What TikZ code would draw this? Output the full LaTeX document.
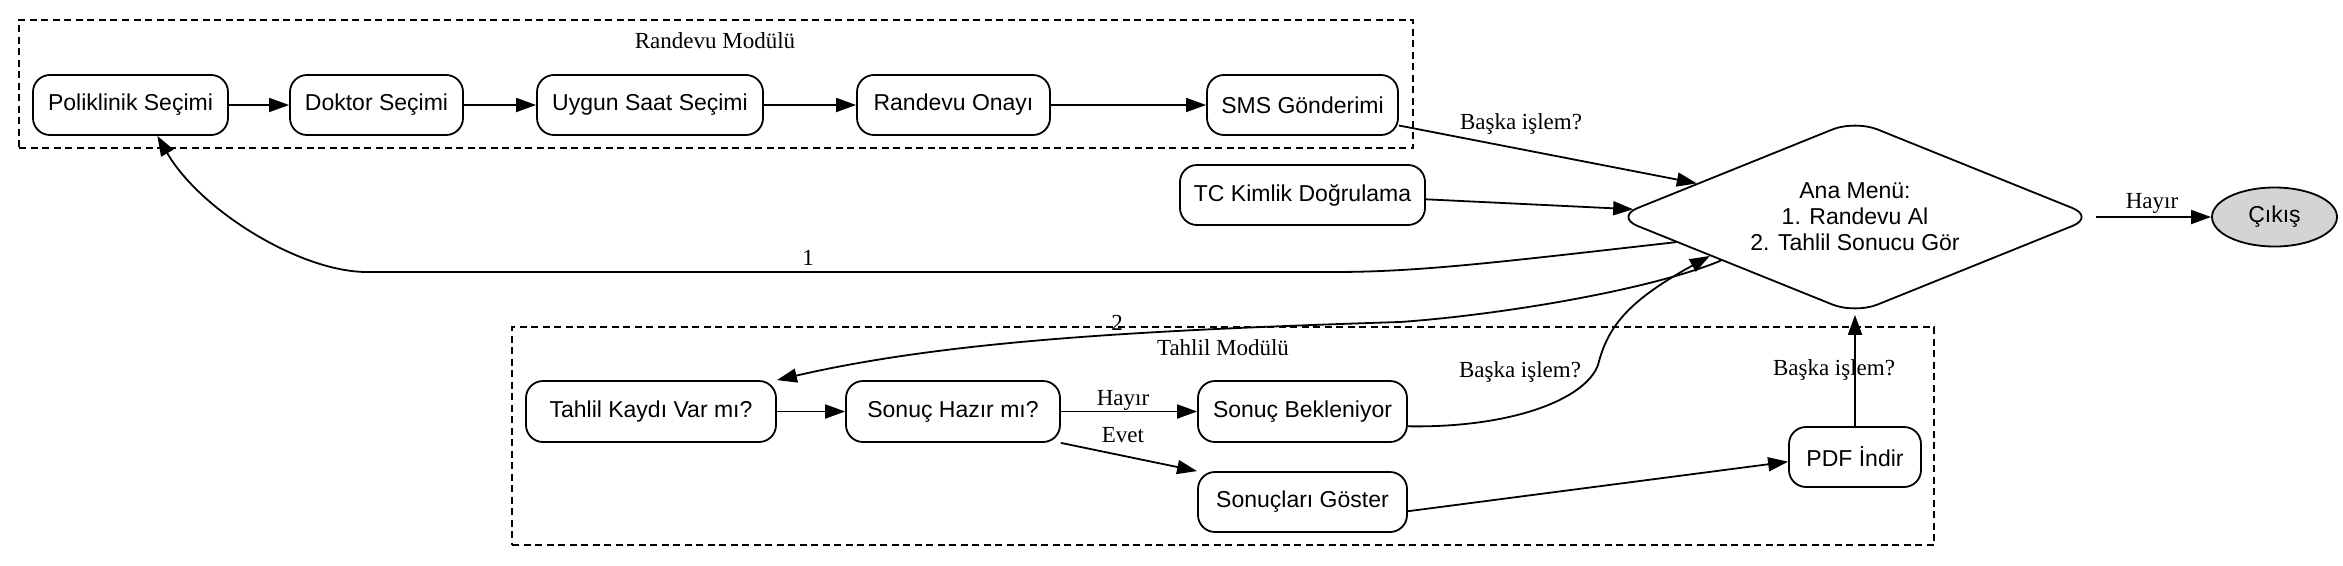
\documentclass[tikz,border=0pt]{standalone}
\usepackage{fontspec}
\setmainfont{Liberation Serif}
\newfontfamily\nodefont{Liberation Sans}
\usetikzlibrary{arrows.meta,shapes.geometric}
\begin{document}
\begin{tikzpicture}[x=1pt,y=-1pt,
  box/.style={draw, line width=1.8pt, rounded corners=17pt, inner sep=0pt,
    font=\nodefont\fontsize{23}{26}\selectfont, minimum height=60pt},
  menubox/.style={draw, diamond, aspect=2.47, line width=1.8pt, rounded corners=24pt, inner sep=0pt,
    font=\nodefont\fontsize{23}{26}\selectfont, align=center,
    minimum width=480pt, minimum height=194pt},
  endbox/.style={draw, ellipse, line width=1.8pt, fill=black!17, inner sep=0pt,
    font=\nodefont\fontsize{23}{26}\selectfont, minimum width=125pt, minimum height=59pt},
  cluster/.style={draw, line width=1.6pt, dash pattern=on 7pt off 4.5pt, inner sep=0pt},
  lbl/.style={inner sep=0pt, font=\fontsize{23}{26}\selectfont},
  conn/.style={line width=1.8pt, -{Triangle[length=20pt,width=14pt]}}]
\useasboundingbox (0,0) rectangle (2343,565);

% clusters
\node[cluster, minimum width=1394pt, minimum height=128pt] (randk) at (716,84) {};
\node[cluster, minimum width=1422pt, minimum height=218pt] (tahk) at (1223,436) {};
\node[lbl] (randt) at (715,41) {Randevu Modülü};
\node[lbl] (taht) at (1223,348) {Tahlil Modülü};

% nodes
\node[box, minimum width=195pt] (poli) at (130.5,105) {Poliklinik Seçimi};
\node[box, minimum width=173pt] (dok) at (376.5,105) {Doktor Seçimi};
\node[box, minimum width=226pt] (uyg) at (650,105) {Uygun Saat Seçimi};
\node[box, minimum width=193pt] (onay) at (953.5,105) {Randevu Onayı};
\node[box, minimum width=191pt] (sms) at (1302.5,105) {SMS Gönderimi};
\node[box, minimum width=245pt] (tc) at (1302.5,195) {TC Kimlik Doğrulama};
\node[menubox] (menu) at (1855,217) {Ana Menü:\\1. Randevu Al\\2. Tahlil Sonucu Gör};
\node[endbox] (cikis) at (2274.5,217) {Çıkış};
\node[box, minimum width=250pt, minimum height=61pt] (tk) at (651,411.5) {Tahlil Kaydı Var mı?};
\node[box, minimum width=214pt, minimum height=61pt] (shm) at (953,411.5) {Sonuç Hazır mı?};
\node[box, minimum width=209pt, minimum height=61pt] (bek) at (1302.5,411.5) {Sonuç Bekleniyor};
\node[box, minimum width=209pt] (sg) at (1302.5,502) {Sonuçları Göster};
\node[box, minimum width=132pt] (pdf) at (1855,457) {PDF İndir};

% connectors
\draw[conn] (poli.east) -- (dok.west);
\draw[conn] (dok.east) -- (uyg.west);
\draw[conn] (uyg.east) -- (onay.west);
\draw[conn] (onay.east) -- (sms.west);
\draw[conn] (sms.-12) -- (menu.168);
\draw[conn] (tc.-2) -- (menu.178);
\draw[conn] (menu.east) -- (cikis.west);
\draw[conn] (menu.188.4) .. controls (1500,262) and (1420,272) .. (1334,272)
  -- (367,272) .. controls (300,272) and (200,210) .. (poli.-49);
\draw[conn] (menu.198.4) .. controls (1650,290) and (1500,315) .. (1400,322)
  .. controls (1150,330) and (950,340) .. (tk.north east);
\draw[conn] (tk.east) -- (shm.west);
\draw[conn] (shm.east) -- (bek.west);
\draw[conn] (shm.south east) -- (sg.north west);
\draw[conn] (sg.-5) -- (pdf.184);
\draw[conn] (pdf.north) -- (menu.south);
\draw[conn] (bek.-8) .. controls (1510,428) and (1585,400) .. (1598,365)
  .. controls (1608,325) and (1630,300) .. (menu.195.7);

% labels
\node[lbl] (l1) at (1521,124) {Başka işlem?};
\node[lbl] (l2) at (808,258) {1};
\node[lbl] (l3) at (1117,323) {2};
\node[lbl] (l4) at (1123,400) {Hayır};
\node[lbl] (l5) at (1123,435) {Evet};
\node[lbl] (l6) at (1520,372) {Başka işlem?};
\node[lbl] (l7) at (1834,370) {Başka işlem?};
\node[lbl] (l8) at (2152,203) {Hayır};
\end{tikzpicture}
\end{document}
